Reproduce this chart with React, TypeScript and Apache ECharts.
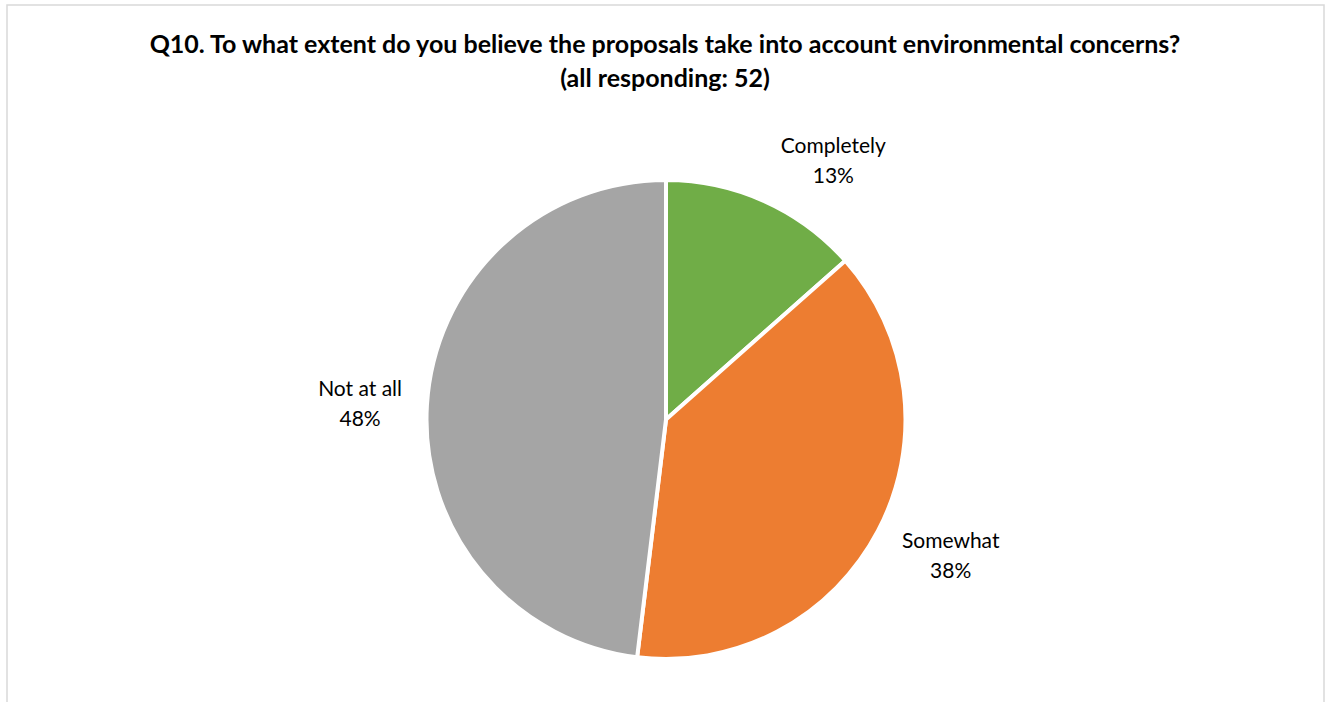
import { useEffect, useRef } from 'react';
import * as echarts from 'echarts';

const categories = ['Completely', 'Somewhat', 'Not at all'];
const counts = [7, 20, 25];
const colors = ['#70AD47', '#ED7D31', '#A5A5A5'];
const titleLines = [
  'Q10. To what extent do you believe the proposals take into account environmental concerns?',
  '(all responding: 52)',
];
// small nudges to mimic Excel's centred label placement
const labelNudgeX = [-7, -21, 25];
const labelNudgeY = [-1, 3, 0];

export default function App() {
  const ref = useRef<HTMLDivElement>(null);
  useEffect(() => {
    const chart = echarts.init(ref.current!, null, { renderer: 'svg' });
    chart.setOption({
      animation: false,
      backgroundColor: '#ffffff',
      title: {
        text: titleLines.join('\n'),
        left: 'center',
        top: 26,
        padding: 0,
        textStyle: {
          fontFamily: 'Lato',
          fontWeight: 'bold',
          fontSize: 25,
          lineHeight: 34,
          color: '#000000',
        },
      },
      graphic: [
        {
          type: 'rect',
          silent: true,
          z: -1,
          shape: { x: 7, y: 5, width: 1317, height: 720 },
          style: { fill: 'none', stroke: '#d9d9d9', lineWidth: 1.5 },
        },
      ],
      series: [
        {
          type: 'pie',
          center: [666, 419.5],
          radius: 239.5,
          startAngle: 90,
          clockwise: true,
          avoidLabelOverlap: false,
          data: categories.map((c, i) => ({
            name: c,
            value: counts[i],
            itemStyle: { color: colors[i] },
          })),
          itemStyle: { borderColor: '#ffffff', borderWidth: 4 },
          label: {
            show: true,
            position: 'outside',
            formatter: (p: any) => `${p.name}\n${Math.round(p.percent)}%`,
            fontFamily: 'Lato',
            fontSize: 21,
            lineHeight: 30,
            color: '#000000',
          },
          labelLine: { show: false, length: 45, length2: 0 },
          labelLayout: (params: any) => {
            const r = params.labelRect;
            const i = params.dataIndex;
            return {
              x: r.x + r.width / 2 + labelNudgeX[i],
              y: r.y + r.height / 2 + labelNudgeY[i],
              align: 'center',
              verticalAlign: 'middle',
            };
          },
          emphasis: { disabled: true },
        },
      ],
    });
    return () => chart.dispose();
  }, []);
  return (
    <div
      ref={ref}
      style={{ position: 'fixed', left: 0, top: 0, width: 1330, height: 702 }}
    />
  );
}
